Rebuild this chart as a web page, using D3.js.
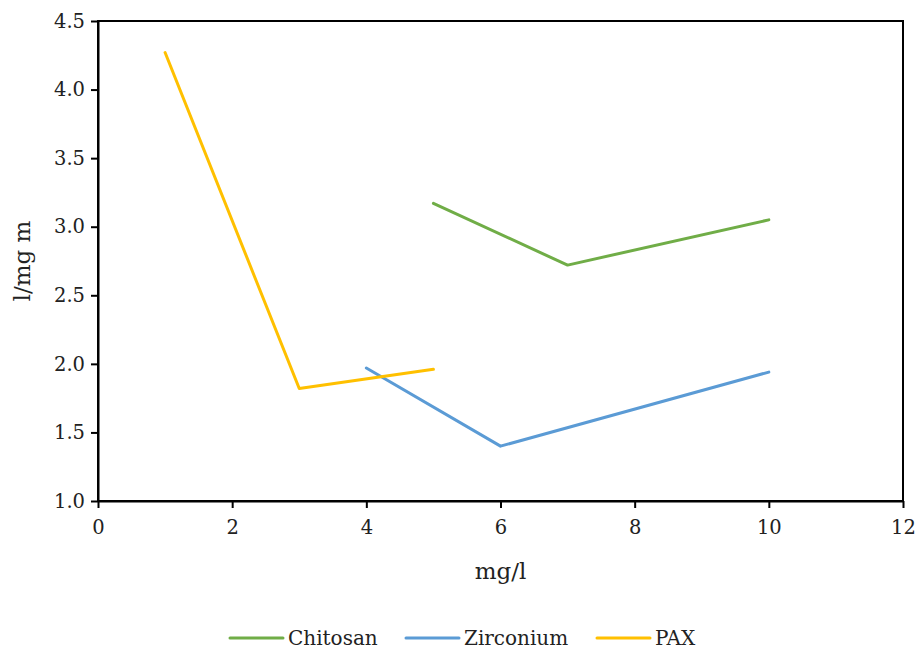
<!DOCTYPE html>
<html>
<head>
<meta charset="utf-8">
<script src="https://cdn.jsdelivr.net/npm/d3@7"></script>
<style>
  html, body { margin: 0; padding: 0; background: #fff; }
  svg { display: block; }
  text { font-family: "DejaVu Serif", "Liberation Serif", serif; fill: #222; }
</style>
</head>
<body>
<svg id="chart" width="920" height="650"></svg>
<script>
// Series data: dose (mg/l) against specific resistance (l/mg m)
const seriesNames = ["Chitosan", "Zirconium", "PAX"];
const seriesColors = ["#70AD47", "#5B9BD5", "#FFC000"];
const chitosanX = [5, 7, 10];
const chitosanY = [3.17, 2.72, 3.05];
const zirconiumX = [4, 6, 10];
const zirconiumY = [1.97, 1.40, 1.94];
const paxX = [1, 3, 5];
const paxY = [4.27, 1.82, 1.96];
const xTicks = [0, 2, 4, 6, 8, 10, 12];
const yTicks = [1.0, 1.5, 2.0, 2.5, 3.0, 3.5, 4.0, 4.5];

const series = [
  { name: seriesNames[0], color: seriesColors[0], xs: chitosanX, ys: chitosanY },
  { name: seriesNames[1], color: seriesColors[1], xs: zirconiumX, ys: zirconiumY },
  { name: seriesNames[2], color: seriesColors[2], xs: paxX, ys: paxY }
];

const svg = d3.select("#chart");
const plotLeft = 98, plotRight = 903, plotTop = 21, plotBottom = 501;

const x = d3.scaleLinear().domain([0, 12]).range([plotLeft, plotRight]);
const y = d3.scaleLinear().domain([1.0, 4.5]).range([plotBottom, plotTop]);

// Frame around the plot area
svg.append("rect")
  .attr("x", plotLeft).attr("y", plotTop)
  .attr("width", plotRight - plotLeft).attr("height", plotBottom - plotTop)
  .attr("fill", "none").attr("stroke", "#000").attr("stroke-width", 2);

const tickFont = "19.5px";

// X axis
const xAxis = svg.append("g")
  .attr("transform", `translate(0,${plotBottom})`)
  .call(d3.axisBottom(x).tickValues(xTicks).tickFormat(d3.format("d")).tickSizeOuter(0).tickSizeInner(7).tickPadding(12));
xAxis.select(".domain").attr("stroke", "#000").attr("stroke-width", 2);
xAxis.selectAll(".tick line").attr("stroke", "#000").attr("stroke-width", 2);
xAxis.selectAll(".tick text").style("font-size", tickFont).style("font-family", "DejaVu Serif").attr("fill", "#222");

// Y axis
const yAxis = svg.append("g")
  .attr("transform", `translate(${plotLeft},0)`)
  .call(d3.axisLeft(y).tickValues(yTicks).tickFormat(d3.format(".1f")).tickSizeOuter(0).tickSizeInner(7).tickPadding(6));
yAxis.select(".domain").attr("stroke", "#000").attr("stroke-width", 2);
yAxis.selectAll(".tick line").attr("stroke", "#000").attr("stroke-width", 2);
yAxis.selectAll(".tick text").style("font-size", tickFont).style("font-family", "DejaVu Serif").attr("fill", "#222");

// Series lines
const line = d3.line().x(d => x(d[0])).y(d => y(d[1]));
series.forEach(s => {
  const pts = s.xs.map((v, i) => [v, s.ys[i]]);
  svg.append("path")
    .datum(pts)
    .attr("d", line)
    .attr("fill", "none")
    .attr("stroke", s.color)
    .attr("stroke-width", 3)
    .attr("stroke-linejoin", "round")
    .attr("stroke-linecap", "round");
});

// Axis titles
svg.append("text")
  .attr("x", (plotLeft + plotRight) / 2).attr("y", 579)
  .attr("text-anchor", "middle")
  .style("font-size", "23px")
  .text("mg/l");

svg.append("text")
  .attr("transform", `translate(30,${(plotTop + plotBottom) / 2}) rotate(-90)`)
  .attr("text-anchor", "middle")
  .style("font-size", "23px")
  .text("l/mg m");

// Legend
const legendX = [230, 406, 597];
const legend = svg.append("g");
series.forEach((s, i) => {
  const g = legend.append("g").attr("transform", `translate(${legendX[i]},638)`);
  g.append("line")
    .attr("x1", 0).attr("x2", 53).attr("y1", 0).attr("y2", 0)
    .attr("stroke", s.color).attr("stroke-width", 3).attr("stroke-linecap", "round");
  g.append("text")
    .attr("x", 58).attr("y", 0).attr("dy", "0.35em")
    .style("font-size", "20px")
    .text(s.name);
});
</script>
</body>
</html>
